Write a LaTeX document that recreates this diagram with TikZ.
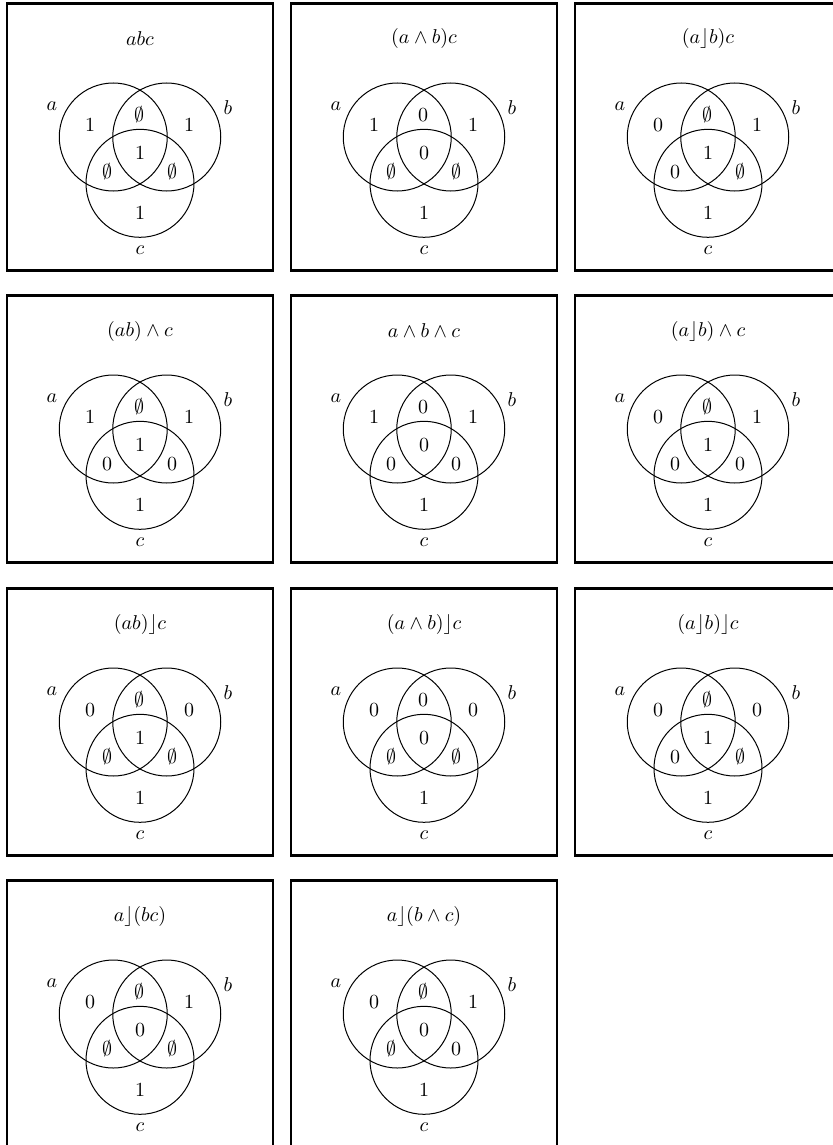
\documentclass[tikz,border=0pt]{standalone}
\usepackage{amsmath}

\begin{document}
\begin{tikzpicture}[x=0.5pt,y=-0.5pt,
 panel/.style={draw,line width=1.3pt},
 setc/.style={draw,circle,line width=0.5pt,minimum size=54pt,inner sep=0pt,outer sep=0pt}]
\useasboundingbox (0,0) rectangle (833,1145);
\foreach \px/\py/\ttl/\ra/\rab/\rb/\rabc/\rac/\rbc/\rc [count=\i] in {
 140/137/{abc}/1/\emptyset/1/1/\emptyset/\emptyset/1,
 424/137/{(a\wedge b)c}/1/0/1/0/\emptyset/\emptyset/1,
 708/137/{(a\rfloor b)c}/0/\emptyset/1/1/0/\emptyset/1,
 140/429/{(ab)\wedge c}/1/\emptyset/1/1/0/0/1,
 424/429/{a\wedge b\wedge c}/1/0/1/0/0/0/1,
 708/429/{(a\rfloor b)\wedge c}/0/\emptyset/1/1/0/0/1,
 140/722/{(ab)\rfloor c}/0/\emptyset/0/1/\emptyset/\emptyset/1,
 424/722/{(a\wedge b)\rfloor c}/0/0/0/0/\emptyset/\emptyset/1,
 708/722/{(a\rfloor b)\rfloor c}/0/\emptyset/0/1/0/\emptyset/1,
 140/1014/{a\rfloor(bc)}/0/\emptyset/1/0/\emptyset/\emptyset/1,
 424/1014/{a\rfloor(b\wedge c)}/0/\emptyset/1/0/\emptyset/0/1}
{
 \begin{scope}[shift={(\px,\py)}]
  \draw[panel] (-133,-133.5) rectangle (133,133.5);
  \node (t\i) at (0,-98) {$\ttl$};
  % the three sets
  \node[setc] (a\i) at (-26.75,0) {};
  \node[setc] (b\i) at (26.75,0) {};
  \node[setc] (c\i) at (0,46.3) {};
  \node (la\i) at (-88,-31) {$a$};
  \node (lb\i) at (88,-29) {$b$};
  \node (lc\i) at (0,113) {$c$};
  % region values
  \node (ra\i) at (-50,-12) {$\ra$};
  \node (rab\i) at (-1,-22) {$\rab$};
  \node (rb\i) at (49,-12) {$\rb$};
  \node (rabc\i) at (0,16) {$\rabc$};
  \node (rac\i) at (-33,35) {$\rac$};
  \node (rbc\i) at (32,35) {$\rbc$};
  \node (rc\i) at (0,76) {$\rc$};
 \end{scope}
}
\end{tikzpicture}
\end{document}
